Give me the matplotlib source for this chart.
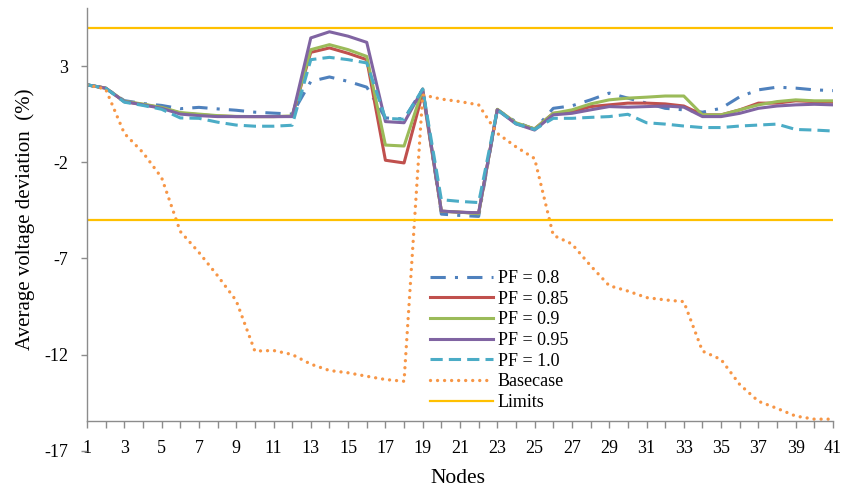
import matplotlib
matplotlib.use("Agg")
import matplotlib.pyplot as plt

nodes = list(range(1, 42))

pf_080 = [2.02, 1.85, 1.2, 1.05, 0.95, 0.78, 0.85, 0.77, 0.7, 0.6, 0.55, 0.5,
          2.2, 2.43, 2.2, 1.9, 0.3, 0.25, 1.8, -4.7, -4.77, -4.82, 0.72, 0.1, -0.3,
          0.8, 0.93, 1.24, 1.59, 1.33, 1.07, 0.8, 0.72, 0.6, 0.8, 1.4, 1.76, 1.9,
          1.85, 1.76, 1.72]
pf_085 = [2.02, 1.85, 1.15, 1.0, 0.83, 0.55, 0.47, 0.4, 0.37, 0.37, 0.37, 0.38,
          3.71, 3.94, 3.66, 3.33, -1.9, -2.04, 1.6, -4.55, -4.6, -4.65, 0.74, 0.02, -0.27,
          0.54, 0.62, 0.89, 0.98, 1.07, 1.07, 1.03, 0.92, 0.46, 0.46, 0.72, 1.07, 1.07,
          1.19, 1.15, 1.12]
pf_090 = [2.02, 1.85, 1.17, 1.02, 0.85, 0.58, 0.5, 0.42, 0.38, 0.37, 0.37, 0.4,
          3.85, 4.11, 3.85, 3.5, -1.11, -1.16, 1.8, -4.55, -4.6, -4.68, 0.75, 0.05, -0.27,
          0.54, 0.72, 1.03, 1.24, 1.33, 1.38, 1.44, 1.44, 0.46, 0.46, 0.72, 0.98, 1.15,
          1.24, 1.19, 1.19]
pf_095 = [2.02, 1.85, 1.15, 0.98, 0.8, 0.5, 0.42, 0.37, 0.37, 0.37, 0.37, 0.37,
          4.46, 4.78, 4.55, 4.23, 0.11, 0.05, 1.8, -4.54, -4.6, -4.63, 0.72, -0.01, -0.33,
          0.46, 0.54, 0.72, 0.89, 0.86, 0.89, 0.92, 0.86, 0.37, 0.37, 0.54, 0.8, 0.92,
          0.98, 1.01, 0.98]
pf_100 = [2.02, 1.85, 1.12, 0.95, 0.75, 0.3, 0.28, 0.08, -0.07, -0.13, -0.13, -0.08,
          3.33, 3.45, 3.33, 3.16, 0.28, 0.23, 1.8, -3.95, -4.04, -4.1, 0.72, 0.0, -0.3,
          0.28, 0.28, 0.33, 0.37, 0.49, 0.05, -0.02, -0.12, -0.2, -0.2, -0.12, -0.07, -0.02,
          -0.3, -0.33, -0.38]
basecase = [2.02, 1.8, -0.5, -1.5, -2.8, -5.6, -6.69, -7.9, -9.2, -11.82, -11.79, -12.0,
            -12.5, -12.83, -12.95, -13.13, -13.3, -13.39, 1.5, 1.28, 1.15, 0.98, -0.5, -1.2, -1.81,
            -5.8, -6.25, -7.38, -8.42, -8.7, -9.04, -9.16, -9.25, -11.82, -12.26, -13.56, -14.43,
            -14.8, -15.2, -15.36, -15.36]
limit_upper = 5
limit_lower = -5

y_ticks = [3, -2, -7, -12, -17]
x_tick_labels = [str(n) for n in nodes[::2]]

plt.rcParams['font.family'] = ['Liberation Serif', 'DejaVu Serif']
plt.rcParams['axes.unicode_minus'] = False

fig = plt.figure(figsize=(8.5, 4.92), dpi=100)
ax = fig.add_axes([87 / 850, 1 - 450.7 / 492, 746 / 850, 442.4 / 492])

c_blue = '#4F81BD'
c_red = '#C0504D'
c_green = '#9BBB59'
c_purple = '#8064A2'
c_aqua = '#4BACC6'
c_orange = '#F79646'
c_gold = '#FFC000'

ax.plot(nodes, pf_080, color=c_blue, lw=2.2, dashes=(5, 3, 1, 3), label='PF = 0.8')
ax.plot(nodes, pf_085, color=c_red, lw=2.2, label='PF = 0.85')
ax.plot(nodes, pf_090, color=c_green, lw=2.2, label='PF = 0.9')
ax.plot(nodes, pf_095, color=c_purple, lw=2.2, label='PF = 0.95')
ax.plot(nodes, pf_100, color=c_aqua, lw=2.2, dashes=(4, 2), label='PF = 1.0')
ax.plot(nodes, basecase, color=c_orange, lw=2.4, dashes=(0.01, 2.1),
        dash_capstyle='round', label='Basecase')
ax.axhline(limit_upper, color=c_gold, lw=1.6, label='Limits')
ax.axhline(limit_lower, color=c_gold, lw=1.6)

ax.set_xlim(1, 41)
ax.set_ylim(-17, 6)

axis_gray = '#8C8C8C'
for side in ('top', 'right'):
    ax.spines[side].set_visible(False)
ax.spines['bottom'].set_position(('data', -15.45))
ax.spines['left'].set_bounds(-15.45, 6)
for side in ('bottom', 'left'):
    ax.spines[side].set_color(axis_gray)
    ax.spines[side].set_linewidth(1.0)

ax.set_xticks(nodes, minor=True)
ax.set_xticks(nodes[::2])
ax.set_xticklabels(x_tick_labels)
ax.tick_params(axis='x', which='both', direction='out', length=5, width=1,
               color=axis_gray, labelsize=13, pad=9)
ax.set_yticks(y_ticks)
ax.tick_params(axis='y', direction='out', length=4.5, width=1, color=axis_gray,
               labelsize=13, pad=9)

ax.set_xlabel('Nodes', fontsize=15.5, va='center')
ax.xaxis.set_label_coords(0.497, -0.062)
ax.set_ylabel('Average voltage deviation  (%)', fontsize=15, va='center')
ax.yaxis.set_label_coords(-0.083, 0.524)

ax.legend(loc='upper left', bbox_to_anchor=(0.46, 0.408), frameon=False,
          fontsize=13, handlelength=3.5, handletextpad=0.25, labelspacing=0.2,
          borderpad=0, borderaxespad=0)

fig.savefig('out.png', dpi=100)
